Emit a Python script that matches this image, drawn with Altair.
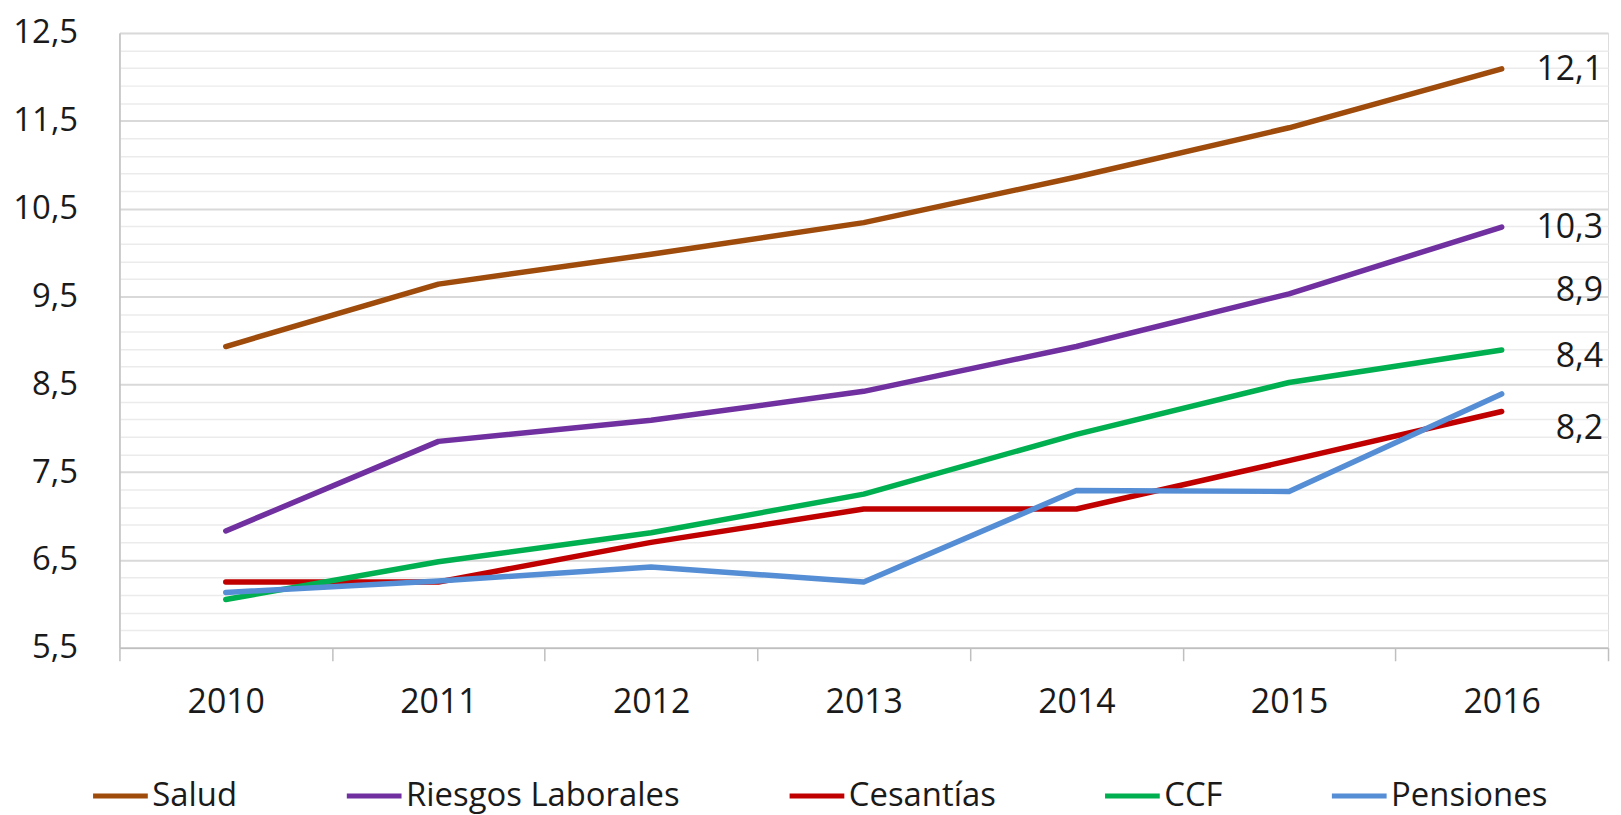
import altair as alt
import pandas as pd

years = ["2010", "2011", "2012", "2013", "2014", "2015", "2016"]
series = ["Salud", "Riesgos Laborales", "Cesantías", "CCF", "Pensiones"]
salud = [8.93, 9.64, 9.98, 10.34, 10.86, 11.42, 12.09]
riesgos = [6.83, 7.85, 8.09, 8.42, 8.93, 9.53, 10.29]
cesantias = [6.25, 6.25, 6.70, 7.08, 7.08, 7.63, 8.19]
ccf = [6.05, 6.48, 6.81, 7.25, 7.93, 8.52, 8.89]
pensiones = [6.13, 6.26, 6.42, 6.25, 7.29, 7.28, 8.39]
colors = ["#9E4B0B", "#7030A0", "#C00000", "#00B050", "#558ED5"]

values = {"Salud": salud, "Riesgos Laborales": riesgos, "Cesantías": cesantias,
          "CCF": ccf, "Pensiones": pensiones}
rows = []
for s in series:
    for y, v in zip(years, values[s]):
        rows.append({"year": y, "serie": s, "value": v})
df = pd.DataFrame(rows)

FONT = "Open Sans"
TXT = "#1a1a1a"
ytick_vals = [round(5.5 + 0.2 * i, 1) for i in range(36)]
MAJOR = "round(datum.value*10) % 10 == 5"

x_enc = alt.X("year:N", sort=years, title=None,
              scale=alt.Scale(paddingInner=0, paddingOuter=0),
              axis=alt.Axis(labelAngle=0, labelFont=FONT, labelFontSize=34, labelColor=TXT,
                            tickBand="extent", tickSize=13, tickColor="#bfbfbf", tickWidth=1.5,
                            domainColor="#bfbfbf", domainWidth=1.5, labelPadding=25, grid=False))
y_enc = alt.Y("value:Q", title=None,
              scale=alt.Scale(domain=[5.5, 12.5], nice=False, zero=False),
              axis=alt.Axis(values=ytick_vals, tickCount=100, labelOverlap=False,
                            labelExpr=MAJOR + " ? replace(format(datum.value, '.1f'), '.', ',') : ''",
                            labelFont=FONT, labelFontSize=33, labelColor=TXT, labelPadding=42,
                            ticks=False, domainColor="#bfbfbf", domainWidth=1.5,
                            gridColor={"condition": {"test": MAJOR, "value": "#d9d9d9"},
                                       "value": "#ebebeb"},
                            gridWidth={"condition": {"test": MAJOR, "value": 2},
                                       "value": 1.5}))

color_enc = alt.Color("serie:N", sort=series,
                      scale=alt.Scale(domain=series, range=colors),
                      legend=alt.Legend(orient="none", legendX=-29, legendY=737, direction="horizontal",
                                        columns=5, title=None, symbolType="stroke", symbolSize=3025,
                                        symbolStrokeWidth=5, labelFont=FONT, labelFontSize=33,
                                        labelColor=TXT, columnPadding=99, labelOffset=2,
                                        labelLimit=400))

lines = alt.Chart(df).mark_line(strokeWidth=5.5, strokeCap="round", strokeJoin="round").encode(
    x=x_enc, y=y_enc, color=color_enc)

label_dy = {"Salud": 1, "Riesgos Laborales": 1, "CCF": -59, "Pensiones": -37, "Cesantías": 18}
text_layers = []
for s in series:
    t = alt.Chart(df).transform_filter(
        (alt.datum.serie == s) & (alt.datum.year == years[-1])
    ).transform_calculate(
        lab="replace(format(datum.value, '.1f'), '.', ',')"
    ).mark_text(align="right", baseline="middle", dx=102, dy=label_dy[s], font=FONT,
                fontSize=34, color=TXT).encode(
        x=alt.X("year:N", sort=years), y=alt.Y("value:Q"), text="lab:N")
    text_layers.append(t)

chart = alt.layer(lines, *text_layers).properties(
    width=1496, height=618,
    autosize=alt.AutoSizeParams(type="none"),
    padding={"left": 112, "top": 23, "right": 5, "bottom": 166},
).configure_view(stroke=None).configure(background="white")

chart.save("out.html", embed_options={"renderer": "svg", "actions": False})
